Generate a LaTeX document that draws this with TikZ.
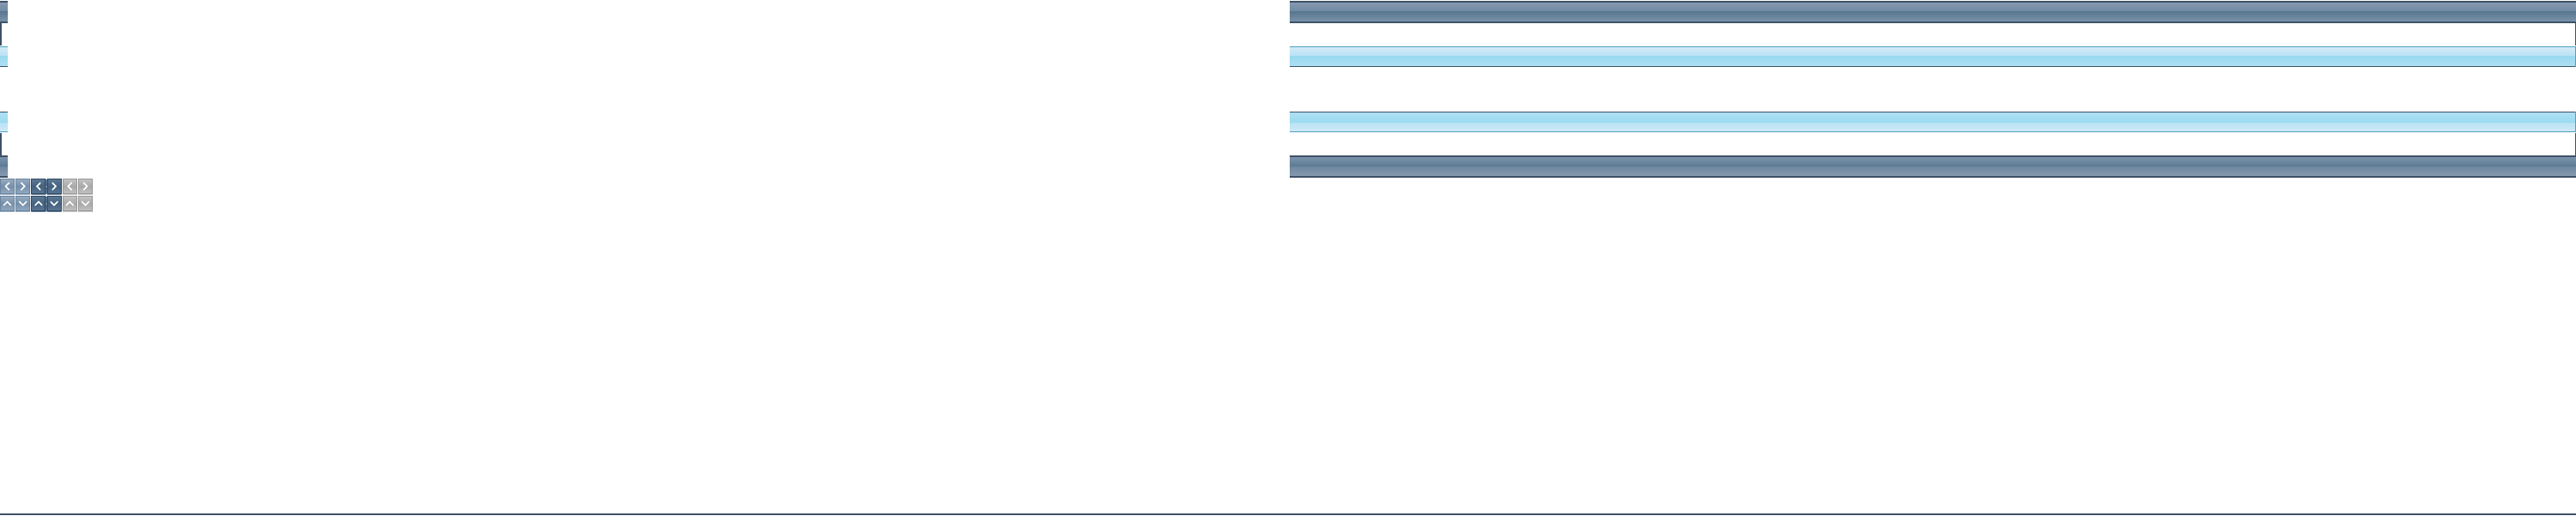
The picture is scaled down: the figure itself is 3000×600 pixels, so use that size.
\documentclass[tikz,border=0pt]{standalone}
\definecolor{dk}{HTML}{3D5166}
\definecolor{dkA}{HTML}{8699AF}
\definecolor{dkB}{HTML}{6F88A1}
\definecolor{dkC}{HTML}{5A7791}
\definecolor{dkD}{HTML}{7A93AA}
\definecolor{ltA}{HTML}{D2EAF8}
\definecolor{ltB}{HTML}{B8E2F4}
\definecolor{ltC}{HTML}{9AD9F0}
\definecolor{ltD}{HTML}{AEE0F4}
\definecolor{tealB}{HTML}{4BA3BF}
\definecolor{bAt}{HTML}{98ADC2}
\definecolor{bAb}{HTML}{7590AA}
\definecolor{bAe}{HTML}{6A84A0}
\definecolor{bBt}{HTML}{5C7A98}
\definecolor{bBb}{HTML}{45617E}
\definecolor{bBe}{HTML}{34495E}
\definecolor{bCt}{HTML}{C4C4C4}
\definecolor{bCb}{HTML}{A9A9A9}
\definecolor{bCe}{HTML}{999999}
\tikzset{
  chev/.style={draw=white,line width=1.6pt,line cap=round,line join=miter},
  edgefill/.style={fill=dk}
}
\begin{document}
\begin{tikzpicture}[x=1pt,y=-1pt]
\useasboundingbox (0,0) rectangle (3000,600);
% horizontal bars (left stub and right long bar)
\foreach \xa/\xb in {0/9,1502/3000}{
  % dark bar top
  \fill[edgefill] (\xa,1) rectangle (\xb,3);
  \shade[top color=dkA,bottom color=dkB] (\xa,3) rectangle (\xb,13.5);
  \shade[top color=dkC,bottom color=dkD] (\xa,13.5) rectangle (\xb,25);
  \fill[edgefill] (\xa,25) rectangle (\xb,27);
  % light bar
  \fill[tealB] (\xa,54) rectangle (\xb,55);
  \shade[top color=ltA,bottom color=ltB] (\xa,55) rectangle (\xb,65);
  \shade[top color=ltC,bottom color=ltD] (\xa,65) rectangle (\xb,77);
  \fill[edgefill] (\xa,77) rectangle (\xb,78);
  % light bar inverted
  \fill[edgefill] (\xa,130) rectangle (\xb,131);
  \shade[top color=ltD,bottom color=ltC] (\xa,131) rectangle (\xb,143);
  \shade[top color=ltB,bottom color=ltA] (\xa,143) rectangle (\xb,153);
  \fill[tealB] (\xa,153) rectangle (\xb,154);
  % dark bar bottom
  \fill[edgefill] (\xa,181) rectangle (\xb,183);
  \shade[top color=dkD,bottom color=dkC] (\xa,183) rectangle (\xb,194);
  \shade[top color=dkB,bottom color=dkA] (\xa,194) rectangle (\xb,205);
  \fill[edgefill] (\xa,205) rectangle (\xb,206.5);
}
% right edges of light bars
\fill[tealB] (2999,54) rectangle (3000,78);
\fill[tealB] (2999,130) rectangle (3000,154);
% vertical side lines
\fill[edgefill] (0,27) rectangle (1.5,53);
\fill[edgefill] (2998.5,27) rectangle (3000,53);
\fill[edgefill] (0,155) rectangle (1.5,180.5);
\fill[edgefill] (2998.5,155) rectangle (3000,180.5);
% buttons
\foreach \i/\t/\b/\e in {0/bAt/bAb/bAe,1/bAt/bAb/bAe,2/bBt/bBb/bBe,3/bBt/bBb/bBe,4/bCt/bCb/bCe,5/bCt/bCb/bCe}{
  \pgfmathsetmacro{\xl}{\i*18.2}
  \pgfmathsetmacro{\xr}{\i*18.2+17}
  \pgfmathsetmacro{\xc}{\i*18.2+8.5}
  \foreach \ya/\yb in {208/226,228/246}{
    \pgfmathsetmacro{\ym}{(\ya+\yb)/2}
    \shade[top color=\t,bottom color=\b] (\xl,\ya) rectangle (\xr,\ym);
    \shade[top color=\b,bottom color=\t] (\xl,\ym) rectangle (\xr,\yb);
    \draw[\e,line width=1pt] (\xl+0.5,\ya+0.5) rectangle (\xr-0.5,\yb-0.5);
  }
  \ifodd\i
    \draw[chev] (\xc-2,213) -- (\xc+2,217) -- (\xc-2,221);
    \draw[chev] (\xc-4,235) -- (\xc,239) -- (\xc+4,235);
  \else
    \draw[chev] (\xc+2,213) -- (\xc-2,217) -- (\xc+2,221);
    \draw[chev] (\xc-4,239) -- (\xc,235) -- (\xc+4,239);
  \fi
}
% bottom line
\fill[edgefill] (0,598) rectangle (3000,600);
\end{tikzpicture}
\end{document}
